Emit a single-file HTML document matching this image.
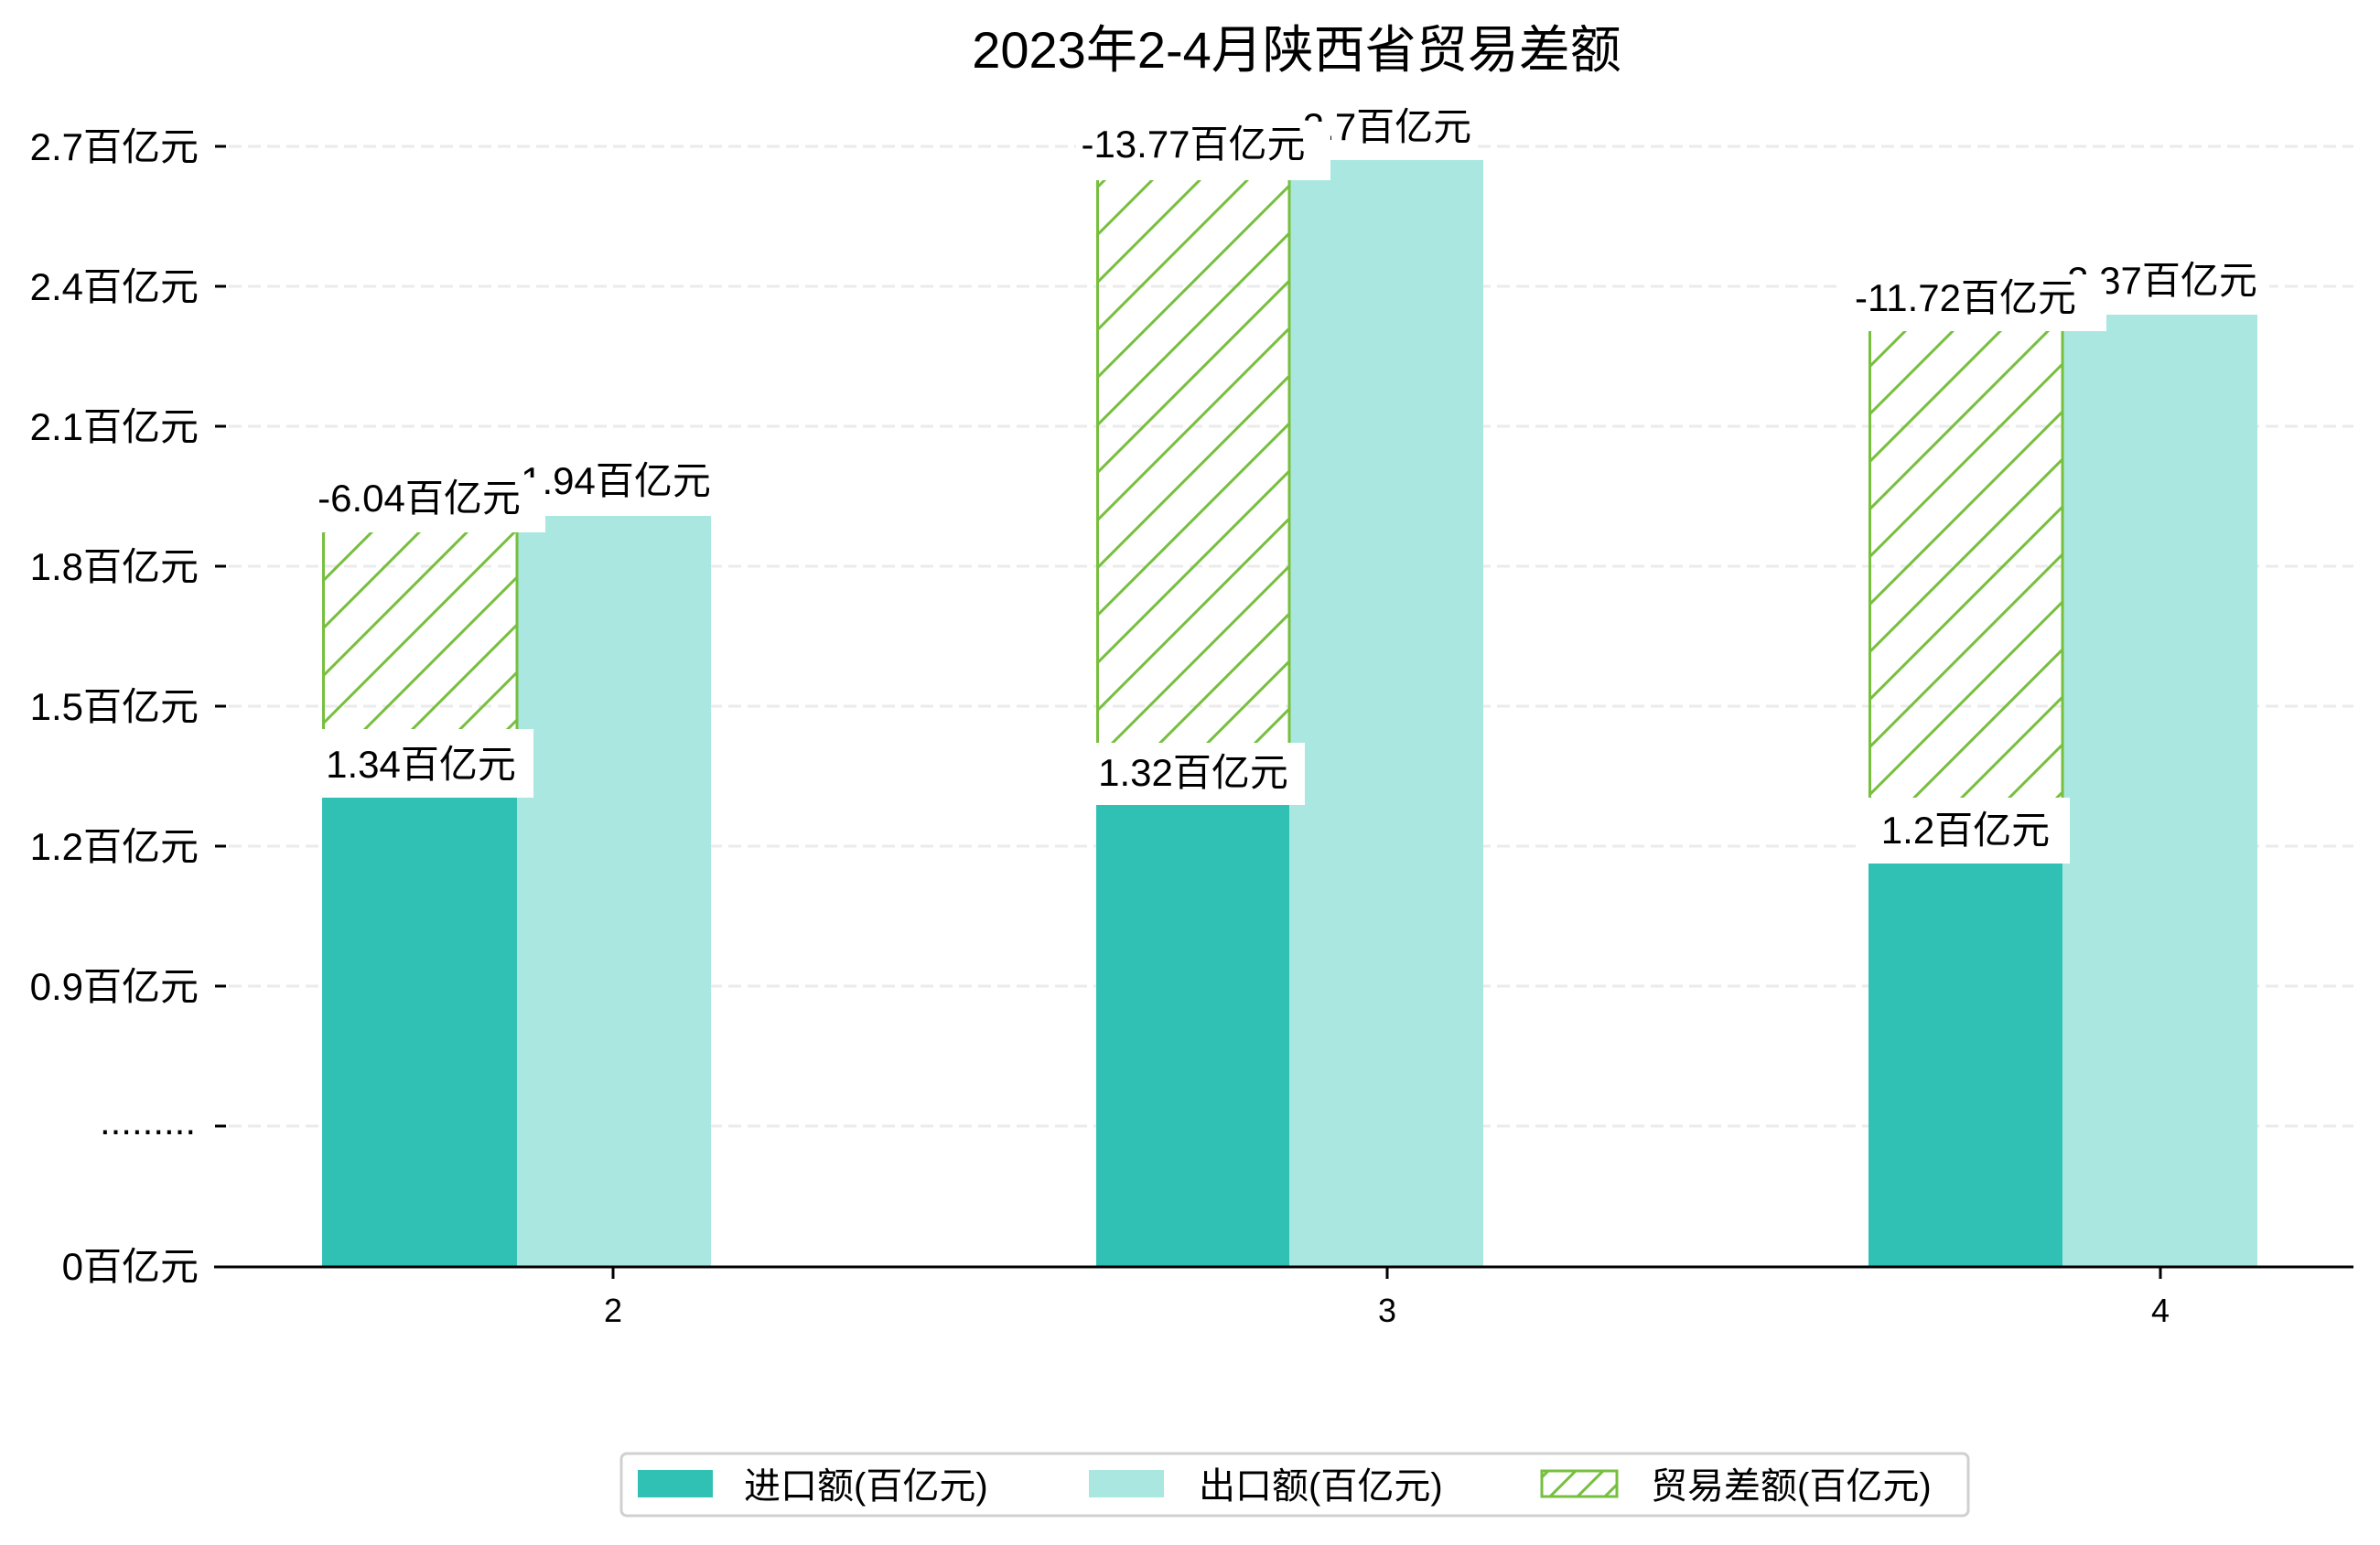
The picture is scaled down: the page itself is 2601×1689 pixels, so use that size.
<!DOCTYPE html>
<html><head><meta charset="utf-8"><style>
html,body{margin:0;padding:0;background:#fff;}
svg{display:block;}
text{font-family:"Liberation Sans","Noto Sans CJK SC",sans-serif;fill:#000;}
</style></head><body>
<svg width="2601" height="1689" viewBox="0 0 2601 1689" xmlns="http://www.w3.org/2000/svg">
<defs>
<pattern id="h" patternUnits="userSpaceOnUse" width="52" height="52">
<path d="M0,52 L52,0 M-10,10 L10,-10 M42,62 L62,42" stroke="#77bf3f" stroke-width="3"/>
</pattern>
<pattern id="hl" patternUnits="userSpaceOnUse" width="30" height="30">
<path d="M0,30 L30,0 M-10,10 L10,-10 M20,40 L40,20" stroke="#77bf3f" stroke-width="3"/>
</pattern>
</defs>
<rect width="2601" height="1689" fill="#fff"/>
<text x="1417" y="74" font-size="56" text-anchor="middle">2023年2-4月陕西省贸易差额</text>

<g stroke="#ebebeb" stroke-width="3" stroke-dasharray="14,7">
<line x1="250" y1="160" x2="2572" y2="160"/><line x1="250" y1="313" x2="2572" y2="313"/>
<line x1="250" y1="466" x2="2572" y2="466"/><line x1="250" y1="619" x2="2572" y2="619"/>
<line x1="250" y1="772" x2="2572" y2="772"/><line x1="250" y1="925" x2="2572" y2="925"/>
<line x1="250" y1="1078" x2="2572" y2="1078"/><line x1="250" y1="1231" x2="2572" y2="1231"/>
</g>
<g stroke="#000" stroke-width="3">
<line x1="235" y1="160" x2="247" y2="160"/><line x1="235" y1="313" x2="247" y2="313"/>
<line x1="235" y1="466" x2="247" y2="466"/><line x1="235" y1="619" x2="247" y2="619"/>
<line x1="235" y1="772" x2="247" y2="772"/><line x1="235" y1="925" x2="247" y2="925"/>
<line x1="235" y1="1078" x2="247" y2="1078"/><line x1="235" y1="1231" x2="247" y2="1231"/>
</g>
<g font-size="42" text-anchor="end">
<text x="217" y="175">2.7百亿元</text><text x="217" y="328">2.4百亿元</text>
<text x="217" y="481">2.1百亿元</text><text x="217" y="634">1.8百亿元</text>
<text x="217" y="787">1.5百亿元</text><text x="217" y="940">1.2百亿元</text>
<text x="217" y="1093">0.9百亿元</text><text x="214" y="1240">.........</text>
<text x="217" y="1399">0百亿元</text>
</g>

<g>
<rect x="352" y="872" width="213" height="512" fill="#31c1b4"/>
<rect x="565" y="564" width="212" height="820" fill="#abe7e1"/>
<rect x="352" y="582" width="213" height="290" fill="url(#h)"/>
<line x1="353.5" y1="582" x2="353.5" y2="872" stroke="#77bf3f" stroke-width="3"/>
<line x1="565" y1="582" x2="565" y2="872" stroke="#77bf3f" stroke-width="3"/>

<rect x="1198" y="880" width="211" height="504" fill="#31c1b4"/>
<rect x="1409" y="175" width="212" height="1209" fill="#abe7e1"/>
<rect x="1198" y="194" width="211" height="686" fill="url(#h)"/>
<line x1="1199.5" y1="194" x2="1199.5" y2="880" stroke="#77bf3f" stroke-width="3"/>
<line x1="1409" y1="194" x2="1409" y2="880" stroke="#77bf3f" stroke-width="3"/>

<rect x="2042" y="944" width="212" height="440" fill="#31c1b4"/>
<rect x="2254" y="344" width="213" height="1040" fill="#abe7e1"/>
<rect x="2042" y="362" width="212" height="582" fill="url(#h)"/>
<line x1="2043.5" y1="362" x2="2043.5" y2="944" stroke="#77bf3f" stroke-width="3"/>
<line x1="2254" y1="362" x2="2254" y2="944" stroke="#77bf3f" stroke-width="3"/>
</g>

<g font-size="42" text-anchor="middle">
<rect x="560" y="490" width="225" height="73" fill="#fff"/>
<text x="673" y="540">1.94百亿元</text>
<rect x="338" y="522" width="258" height="60" fill="#fff"/>
<text x="458" y="559">-6.04百亿元</text>
<rect x="342" y="797" width="241" height="75" fill="#fff"/>
<text x="460" y="850">1.34百亿元</text>

<rect x="1424" y="105" width="185" height="70" fill="#fff"/>
<text x="1516" y="153">2.7百亿元</text>
<rect x="1176" y="133" width="278" height="64" fill="#fff"/>
<text x="1304" y="172">-13.77百亿元</text>
<rect x="1187" y="812" width="239" height="68" fill="#fff"/>
<text x="1304" y="859">1.32百亿元</text>

<rect x="2240" y="276" width="240" height="68" fill="#fff"/>
<text x="2363" y="321">2.37百亿元</text>
<rect x="2010" y="300" width="292" height="62" fill="#fff"/>
<text x="2148" y="340">-11.72百亿元</text>
<rect x="2035" y="872" width="227" height="72" fill="#fff"/>
<text x="2148" y="922">1.2百亿元</text>
</g>

<line x1="234" y1="1385" x2="2572" y2="1385" stroke="#000" stroke-width="3"/>
<g stroke="#000" stroke-width="3">
<line x1="670" y1="1385" x2="670" y2="1398"/><line x1="1516" y1="1385" x2="1516" y2="1398"/><line x1="2361" y1="1385" x2="2361" y2="1398"/>
</g>
<g font-size="36" text-anchor="middle">
<text x="670" y="1445">2</text><text x="1516" y="1445">3</text><text x="2361" y="1445">4</text>
</g>

<rect x="679" y="1589" width="1472" height="68" rx="6" fill="#fff" stroke="#d0d0d0" stroke-width="3"/>
<rect x="697" y="1607" width="82" height="30" fill="#31c1b4"/>
<text x="813" y="1638" font-size="40">进口额(百亿元)</text>
<rect x="1190" y="1607" width="82" height="30" fill="#abe7e1"/>
<text x="1310" y="1638" font-size="40">出口额(百亿元)</text>
<rect x="1685" y="1608" width="82" height="28" fill="url(#hl)" stroke="#77bf3f" stroke-width="3"/>
<text x="1804" y="1638" font-size="40">贸易差额(百亿元)</text>
</svg>
</body></html>
